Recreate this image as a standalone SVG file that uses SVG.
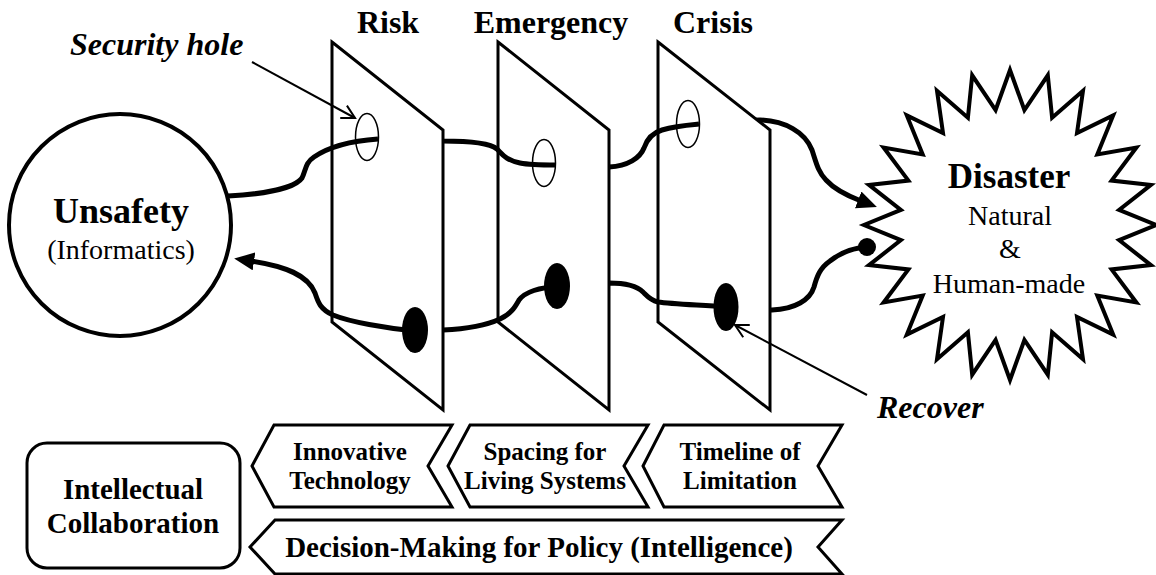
<svg xmlns="http://www.w3.org/2000/svg" width="1156" height="575" viewBox="0 0 1156 575">
<defs>
<style>
.t{font-family:"Liberation Serif","Times New Roman",serif;fill:#000}
.b{font-weight:bold}
.bi{font-weight:bold;font-style:italic}
.thread{fill:none;stroke:#000;stroke-width:5}
.plane{fill:#fff;stroke:#000;stroke-width:3}
.thin{fill:none;stroke:#000;stroke-width:2}
.hole{fill:none;stroke:#000;stroke-width:1.5}
.dot{fill:#000}
.shape{fill:#fff;stroke:#000;stroke-width:3}
.bold4{fill:#fff;stroke:#000;stroke-width:4}
</style>
<marker id="arrFill" markerUnits="userSpaceOnUse" markerWidth="24" markerHeight="20" refX="3" refY="9" orient="auto">
<path d="M0,0 L20,9 L0,18 z" fill="#000"/>
</marker>
<marker id="arrOpen" markerUnits="userSpaceOnUse" markerWidth="18" markerHeight="18" refX="14" refY="8" orient="auto">
<path d="M1,1 L14,8 L1,15" fill="none" stroke="#000" stroke-width="2"/>
</marker>
<mask id="mRisk" maskUnits="userSpaceOnUse" x="0" y="0" width="1156" height="575">
<rect x="0" y="0" width="1156" height="575" fill="#fff"/>
<polygon points="332,42 443,130 443,410 332,322" fill="#000"/>
</mask>
<mask id="mEmergency" maskUnits="userSpaceOnUse" x="0" y="0" width="1156" height="575">
<rect x="0" y="0" width="1156" height="575" fill="#fff"/>
<polygon points="498,42 609,130 609,410 498,322" fill="#000"/>
</mask>
<mask id="mCrisis" maskUnits="userSpaceOnUse" x="0" y="0" width="1156" height="575">
<rect x="0" y="0" width="1156" height="575" fill="#fff"/>
<polygon points="658,42 770,130 770,410 658,322" fill="#000"/>
</mask>
</defs>

<g id="node-unsafety">
<circle class="bold4" cx="120" cy="225" r="111"/>
<text class="t b" x="121" y="223" font-size="36" text-anchor="middle">Unsafety</text>
<text class="t" x="121" y="259" font-size="28" text-anchor="middle">(Informatics)</text>
</g>

<g id="node-risk">
<polygon class="plane" points="332,42 443,130 443,410 332,322"/>
<ellipse class="hole" cx="367" cy="137" rx="11.5" ry="23.5"/>
<ellipse class="dot" cx="415" cy="330" rx="13" ry="23"/>
<text class="t b" x="388" y="33" font-size="32" text-anchor="middle">Risk</text>
</g>

<g id="node-emergency">
<polygon class="plane" points="498,42 609,130 609,410 498,322"/>
<ellipse class="hole" cx="544" cy="163" rx="11.5" ry="23.5"/>
<ellipse class="dot" cx="557" cy="286" rx="13" ry="23"/>
<text class="t b" x="551" y="33" font-size="32" text-anchor="middle">Emergency</text>
</g>

<g id="node-crisis">
<polygon class="plane" points="658,42 770,130 770,410 658,322"/>
<ellipse class="hole" cx="688" cy="124" rx="11.5" ry="23.5"/>
<ellipse class="dot" cx="726" cy="307" rx="12.5" ry="24"/>
<text class="t b" x="713" y="33" font-size="32" text-anchor="middle">Crisis</text>
</g>

<g id="node-disaster">
<polygon class="bold4" points="1010,70 1024.4,110 1047.8,75.3 1052.1,117.8 1083,90.8 1077,133 1113.2,115.4 1097.3,154.4 1136.4,147.5 1111.6,180.6 1151,184.9 1119.1,209.9 1156,225 1119.1,240.1 1151,265.1 1111.6,269.4 1136.4,302.5 1097.3,295.6 1113.2,334.6 1077,317 1083,359.2 1052.1,332.2 1047.8,374.7 1024.4,340 1010,380 995.6,340 972.2,374.7 967.9,332.2 937,359.2 943,317 906.8,334.6 922.7,295.6 883.6,302.5 908.4,269.4 869,265.1 900.9,240.1 864,225 900.9,209.9 869,184.9 908.4,180.6 883.6,147.5 922.7,154.4 906.8,115.4 943,133 937,90.8 967.9,117.8 972.2,75.3 995.6,110"/>
<text class="t b" x="1009" y="188" font-size="35" text-anchor="middle">Disaster</text>
<text class="t" x="1010" y="225" font-size="28" text-anchor="middle">Natural</text>
<text class="t" x="1010" y="258" font-size="28" text-anchor="middle">&amp;</text>
<text class="t" x="1009" y="293" font-size="28" text-anchor="middle">Human-made</text>
</g>

<g id="label-security-hole">
<text class="t bi" x="70" y="55" font-size="32">Security hole</text>
</g>
<g id="label-recover">
<text class="t bi" x="877" y="418" font-size="32">Recover</text>
</g>

<g id="node-intellectual-collaboration">
<rect class="shape" x="27" y="443" width="213" height="125" rx="20" ry="20"/>
<text class="t b" x="133" y="499" font-size="29" text-anchor="middle">Intellectual</text>
<text class="t b" x="133" y="533" font-size="29" text-anchor="middle">Collaboration</text>
</g>

<g id="node-innovative-technology">
<polygon class="shape" points="252,466 274,425 452,425 428,466 452,507 274,507"/>
<text class="t b" x="350" y="460" font-size="25" text-anchor="middle">Innovative</text>
<text class="t b" x="350" y="489" font-size="25" text-anchor="middle">Technology</text>
</g>

<g id="node-spacing">
<polygon class="shape" points="448,466 470,425 648,425 624,466 648,507 470,507"/>
<text class="t b" x="545" y="460" font-size="25" text-anchor="middle">Spacing for</text>
<text class="t b" x="545" y="489" font-size="25" text-anchor="middle">Living Systems</text>
</g>

<g id="node-timeline">
<polygon class="shape" points="643,466 664,425 842,425 818,466 842,507 664,507"/>
<text class="t b" x="740" y="460" font-size="25" text-anchor="middle">Timeline of</text>
<text class="t b" x="740" y="489" font-size="25" text-anchor="middle">Limitation</text>
</g>

<g id="node-decision-making">
<polygon class="shape" points="250,547 275,520 842,520 818,547 842,574 275,574"/>
<text class="t b" x="539" y="557" font-size="29" text-anchor="middle">Decision-Making for Policy (Intelligence)</text>
</g>

<g id="connectors">
<path class="thread" d="M228,196 C265,194 295,188 302,178 C306,170 305,163 314,157 C330,146 350,141 378,139"/>
<path class="thread" mask="url(#mRisk)" d="M367,139 L443,141 C470,141 490,143 497,149 C503,155 506,160 520,163 C530,165 545,165 556,165"/>
<path class="thread" mask="url(#mEmergency)" d="M544,165 L609,167 C628,166 640,158 644,148 C647,139 652,133 662,130 C675,126 688,125 699,124"/>
<path class="thread" mask="url(#mCrisis)" marker-end="url(#arrFill)" d="M688,124 C720,122 740,120 760,120 C785,121 805,132 812,150 C816,162 818,172 826,180 C835,190 848,196 861,201"/>
<path class="thread" mask="url(#mCrisis)" d="M726,307 C745,309 760,310 772,310 C795,309 810,300 814,287 C817,276 820,268 830,261 C840,253 852,248 867,247"/>
<circle class="dot" cx="867" cy="247" r="9"/>
<path class="thread" mask="url(#mEmergency)" d="M726,307 C700,305 672,304 658,302 C650,300 647,296 643,292 C637,286 625,283 609,283 L557,287"/>
<path class="thread" mask="url(#mRisk)" d="M557,287 C540,287 525,292 519,300 C515,307 512,313 500,319 C485,326 465,329 443,330 L415,331"/>
<path class="thread" marker-end="url(#arrFill)" d="M415,331 C385,328 350,322 333,315 C320,309 318,302 315,293 C308,275 285,266 251,261"/>
<path class="thin" marker-end="url(#arrOpen)" d="M252,62 L355,118"/>
<path class="thin" marker-end="url(#arrOpen)" d="M867,395 L735,325"/>
</g>
</svg>
